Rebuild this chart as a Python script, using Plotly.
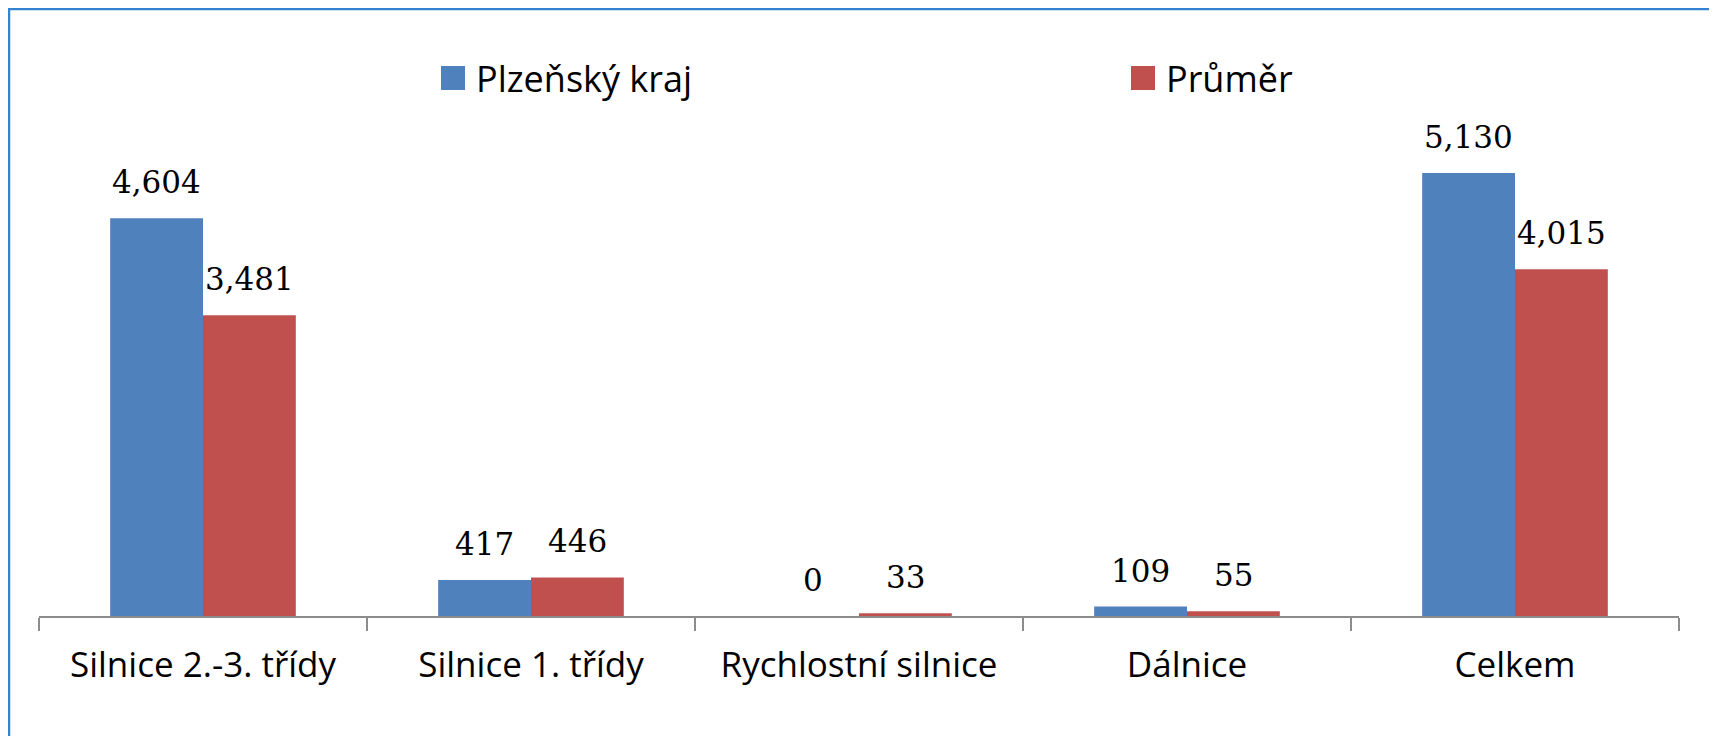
import plotly.graph_objects as go

categories = ["Silnice 2.-3. třídy", "Silnice 1. třídy", "Rychlostní silnice", "Dálnice", "Celkem"]
plzen = [4604, 417, 0, 109, 5130]
prumer = [3481, 446, 33, 55, 4015]
series_names = ["Plzeňský kraj", "Průměr"]
colors = ["#4F81BD", "#C0504D"]

# page body has an 8px margin, so the figure is laid out 8px smaller
OFF = 8
W, H = 1717 - OFF, 736 - OFF
L, R, T, B = 31, 38, 142, 120
PW, PH = W - L - R, H - T - B


def px(x):
    return (x - OFF - L) / PW


def py(y):
    return (H - B - (y - OFF)) / PH


fig = go.Figure()
for name, vals, col in zip(series_names, [plzen, prumer], colors):
    fig.add_trace(go.Bar(x=categories, y=vals, name=name, marker=dict(color=col, line=dict(width=0)),
                         showlegend=False))

annotations = []
for vals, shift in [(plzen, -46.4), (prumer, 46.4)]:
    for c, v in zip(categories, vals):
        annotations.append(dict(x=c, y=v, xref="x", yref="y", text=f"{v:,}", showarrow=False,
                                xshift=shift, yshift=16, yanchor="bottom", xanchor="center",
                                font=dict(family="DejaVu Serif", size=31, color="black")))

# legend drawn as squares + text
shapes = []
for i, (name, col) in enumerate(zip(series_names, colors)):
    x0 = [441, 1131][i]
    shapes.append(dict(type="rect", xref="paper", yref="paper", x0=px(x0), x1=px(x0 + 24),
                       y0=py(90), y1=py(66), fillcolor=col, line=dict(width=0)))
    annotations.append(dict(x=px(x0 + 33), y=py(78), xref="paper", yref="paper", text=name,
                            showarrow=False, xanchor="left", yanchor="middle",
                            font=dict(family="Open Sans", size=36, color="black")))

# outer border
shapes.append(dict(type="rect", xref="paper", yref="paper", x0=px(9), x1=px(1713),
                   y0=py(780), y1=py(9), line=dict(color="#3483D3", width=2.5), layer="below"))

fig.update_layout(
    width=W, height=H,
    margin=dict(l=L, r=R, t=T, b=B),
    paper_bgcolor="white", plot_bgcolor="white",
    barmode="group", bargap=0.434, bargroupgap=0,
    xaxis=dict(type="category", showline=True, linecolor="#8C8C8C", linewidth=2,
               ticks="outside", tickson="boundaries", ticklen=13, tickwidth=2, tickcolor="#8C8C8C",
               tickfont=dict(family="Open Sans", size=35, color="black"), ticklabelstandoff=17,
               showgrid=False, range=[-0.5, 4.5]),
    yaxis=dict(visible=False, range=[0, 5395], showgrid=False, zeroline=False),
    annotations=annotations, shapes=shapes,
)

fig.write_html("out.html")
